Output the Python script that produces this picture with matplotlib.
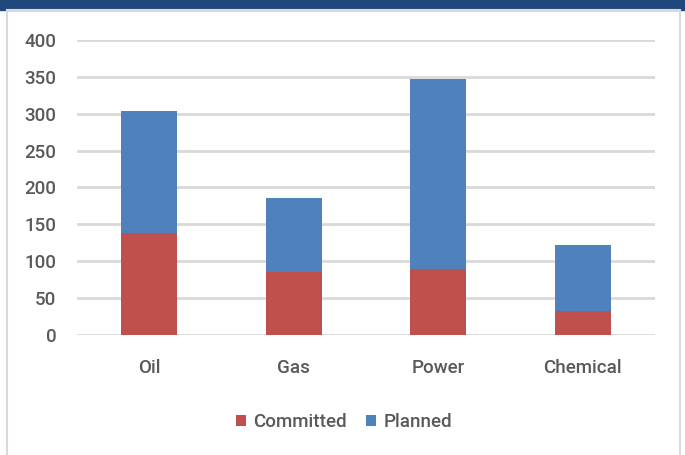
import matplotlib
matplotlib.use("Agg")
import matplotlib.pyplot as plt
from matplotlib.patches import Rectangle
import numpy as np

categories = ["Oil", "Gas", "Power", "Chemical"]
committed = [138, 86, 90, 33]
planned = [166, 100, 257, 89]
yticks = [0, 50, 100, 150, 200, 250, 300, 350, 400]

red = "#C0504D"
blue = "#4F81BD"
txt = "#595959"

plt.rcParams["font.family"] = ["Roboto", "DejaVu Sans"]
plt.rcParams["font.weight"] = "medium"

fig = plt.figure(figsize=(6.85, 4.55), dpi=100)

# top band and frame
fig.patches.append(Rectangle((0, 1 - 10 / 455), 1, 10 / 455, transform=fig.transFigure,
                             color="#1F497D", zorder=0))
fig.patches.append(Rectangle((7 / 685, -0.01), 673 / 685, 1 - 10 / 455 + 0.01,
                             transform=fig.transFigure, facecolor="none",
                             edgecolor="#D9D9D9", linewidth=1.5, zorder=0))

ax = fig.add_axes([77 / 685, 120 / 455, 578 / 685, 295 / 455])
x = np.arange(len(categories))
ax.bar(x, committed, width=0.39, color=red, label="Committed", zorder=3)
ax.bar(x, planned, width=0.39, bottom=committed, color=blue, label="Planned", zorder=3)

ax.set_xlim(-0.5, 3.5)
ax.set_ylim(0, 400)
ax.set_yticks(yticks)
ax.set_xticks(x)
ax.set_xticklabels(categories)
ax.grid(axis="y", color="#D9D9D9", linewidth=2, zorder=0)
for s in ax.spines.values():
    s.set_visible(False)
ax.tick_params(axis="both", length=0, labelsize=13.5, colors=txt)
ax.tick_params(axis="y", pad=15)
ax.tick_params(axis="x", pad=17.5)

ax.legend(loc="center", bbox_to_anchor=(0.5 - 22 / 578, -87 / 295), ncol=2,
          frameon=False, fontsize=13.5, labelcolor=txt, handlelength=0.55,
          handleheight=0.55, handletextpad=0.4, columnspacing=1.0)

fig.savefig("out.png", dpi=100)
